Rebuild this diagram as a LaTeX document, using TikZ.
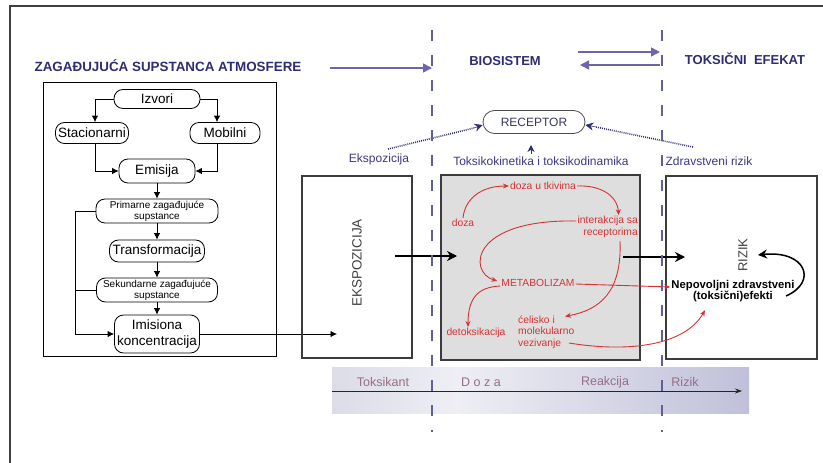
\documentclass[tikz,border=0pt]{standalone}
\usepackage{fontspec}
\setmainfont{Liberation Sans}
\usetikzlibrary{arrows.meta,shapes.misc}
\definecolor{tblue}{RGB}{45,45,115}
\definecolor{lblue}{RGB}{60,55,130}
\definecolor{parrc}{RGB}{110,100,170}
\definecolor{dashc}{RGB}{95,95,155}
\definecolor{redc}{RGB}{215,50,50}
\definecolor{gboxf}{RGB}{222,222,222}
\definecolor{boxd}{RGB}{60,60,60}
\definecolor{tlc}{RGB}{150,110,135}
\definecolor{bandL}{RGB}{220,220,232}
\definecolor{bandM}{RGB}{238,238,244}
\definecolor{bandR}{RGB}{192,192,218}
\definecolor{recc}{RGB}{55,55,95}
\pgfdeclarehorizontalshading{bandsh}{100bp}{color(0bp)=(bandL); color(25bp)=(bandL); color(40bp)=(bandM); color(75bp)=(bandR); color(100bp)=(bandR)}
\begin{document}
\begin{tikzpicture}[x=1pt,y=-1pt,
  fcbox/.style={draw=black, line width=0.8pt, rounded corners=9pt, inner sep=0pt, align=center, font=\fontsize{13.5}{15.5}\selectfont},
  fcsmall/.style={fcbox, font=\fontsize{10}{11}\selectfont},
  farr/.style={-{Latex[length=6.5pt,width=6.5pt]}, line width=0.8pt},
  bigbox/.style={draw=boxd, line width=1.1pt, inner sep=0pt},
  blk/.style={-{Stealth[length=10pt,width=10pt]}, line width=1.5pt},
  rd/.style={text=redc, inner sep=1pt, font=\fontsize{10.3}{11.6}\selectfont},
  rarr/.style={draw=redc, line width=0.9pt, -{Stealth[length=6pt,width=5pt]}},
  ttl/.style={text=tblue, font=\bfseries\fontsize{13}{15}\selectfont},
  lbl/.style={text=lblue, font=\fontsize{12}{14}\selectfont},
  dashv/.style={draw=dashc, line width=2.2pt, dash pattern=on 11pt off 14pt},
  parr/.style={draw=parrc, line width=1.6pt, -{Triangle[length=9pt,width=9pt]}},
  dotline/.style={draw=tblue, line width=1.6pt, dash pattern=on 0.9pt off 1.1pt},
  dottip/.style={draw=tblue, fill=tblue, line width=0.5pt, -{Stealth[length=8pt,width=8pt]}},
  tl/.style={text=tlc, font=\fontsize{12.5}{14}\selectfont}
]
\useasboundingbox (0,0) rectangle (823,463);
% frame
\coordinate (f1) at (9,6); \coordinate (f2) at (823,6);
\coordinate (f3) at (10,6); \coordinate (f4) at (10,463);
\draw[black!75, line width=1.2pt] (f1) -- (f2);
\draw[black!75, line width=1.2pt] (f3) -- (f4);

% titles
\node[ttl, font=\bfseries\fontsize{13.4}{15}\selectfont] (t1) at (168,66) {ZAGAĐUJUĆA SUPSTANCA ATMOSFERE};
\node[ttl] (t2) at (505,61) {BIOSISTEM};
\node[ttl] (t3) at (745,59) {TOKSIČNI\ \ EFEKAT};
\coordinate (ta1) at (330,68); \coordinate (ta2) at (432,68);
\draw[parr] (ta1) -- (ta2);
\coordinate (tb1) at (578,52); \coordinate (tb2) at (660,52);
\coordinate (tc1) at (660,65); \coordinate (tc2) at (580,65);
\draw[parr] (tb1) -- (tb2);
\draw[parr] (tc1) -- (tc2);

% flowchart
\node[draw=black, line width=1pt, minimum width=233pt, minimum height=274pt, inner sep=0pt] (fbox) at (159.5,219) {};
\node[fcbox, minimum width=86pt, minimum height=19pt] (izv) at (157,99) {Izvori};
\node[fcbox, minimum width=73pt, minimum height=21pt] (sta) at (92,133) {Stacionarni};
\node[fcbox, minimum width=70pt, minimum height=21pt] (mob) at (225,133) {Mobilni};
\node[fcbox, minimum width=76pt, minimum height=24pt] (emi) at (157,171) {Emisija};
\node[fcsmall, minimum width=122pt, minimum height=24pt] (pri) at (157,211) {Primarne zagađujuće\\supstance};
\node[fcbox, minimum width=95pt, minimum height=22pt] (tra) at (157,251) {Transformacija};
\node[fcsmall, minimum width=121pt, minimum height=24pt] (sek) at (157,290) {Sekundarne zagađujuće\\supstance};
\node[fcbox, minimum width=85pt, minimum height=38pt] (imi) at (157,334) {Imisiona\\koncentracija};
\draw[farr] (izv.west) -| ([xshift=3pt]sta.north);
\draw[farr] (izv.east) -| ([xshift=-8pt]mob.north);
\draw[farr] ([xshift=3pt]sta.south) |- (emi.west);
\draw[farr] ([xshift=-8pt]mob.south) |- (emi.east);
\draw[farr] (emi) -- (pri);
\draw[farr] (pri) -- (tra);
\draw[farr] (tra) -- (sek);
\draw[farr] (sek) -- (imi);
\coordinate (bx) at (75,0);
\draw[farr] (pri.west) -- (pri.west -| bx) -- (imi.west -| bx) -- (imi.west);
\draw[line width=0.8pt] (sek.west) -- (sek.west -| bx);
\coordinate (ekin) at (337,334);
\draw[farr] (imi.east) -- (ekin);

% big boxes
\node[bigbox, minimum width=110pt, minimum height=182pt] (eks) at (357,267) {};
\node[rotate=90, text=black!75, font=\fontsize{13.5}{15}\selectfont] (ekt) at (357,263) {EKSPOZICIJA};
\node[bigbox, fill=gboxf, minimum width=199pt, minimum height=185pt] (gb) at (540.5,267.5) {};
\node[bigbox, minimum width=151pt, minimum height=183pt] (riz) at (741.5,267.5) {};
\node[rotate=90, text=black!75, font=\fontsize{13}{15}\selectfont] (rzt) at (743,255) {RIZIK};

\coordinate (b1s) at (395,256); \coordinate (b1e) at (457,256);
\draw[blk] (b1s) -- (b1e);
\coordinate (b2s) at (623,257); \coordinate (b2e) at (685,257);
\draw[blk] (b2s) -- (b2e);

% receptor
\node[draw=black!70, line width=0.8pt, rounded corners=11.5pt, minimum width=102pt, minimum height=23pt, inner sep=0pt, text=recc, font=\fontsize{12}{14}\selectfont] (rec) at (534,122) {RECEPTOR};
\coordinate (ra1) at (531,154); \coordinate (ra2) at (531,145);
\draw[tblue, line width=1pt, -{Stealth[length=7pt,width=7pt]}] (ra1) -- (ra2);
\coordinate (d1) at (388,149); \coordinate (d2) at (693,147);
\coordinate (d1e) at (474,128); \coordinate (d2e) at (596,127);
\draw[dotline] (d1) -- (d1e);
\draw[dotline] (d2) -- (d2e);
\draw[dottip] (d1e) -- ([yshift=-3pt]rec.west);
\draw[dottip] (d2e) -- ([yshift=-3pt]rec.east);
\node[lbl] (lek) at (379,159) {Ekspozicija};
\node[lbl] (ltk) at (541,161) {Toksikokinetika i toksikodinamika};
\node[lbl] (lzr) at (709,161) {Zdravstveni rizik};

% red content
\node[rd] (doza) at (463,223) {doza};
\node[rd] (dut) at (543,186) {doza u tkivima};
\node[rd, anchor=east, align=right] (int) at (639,227) {interakcija sa\\receptorima};
\node[rd] (met) at (538,283) {METABOLIZAM};
\node[rd] (det) at (476,333) {detoksikacija};
\node[rd, anchor=west, align=left] (cel) at (517,332) {ćelisko i\\molekularno\\vezivanje};
\node[font=\bfseries\fontsize{11.3}{11.5}\selectfont, align=center, inner sep=1pt] (nep) at (733,291) {Nepovoljni zdravstveni\\(toksični)efekti};

\draw[rarr] (doza.north) .. controls (465,198) and (482,186) .. (dut.west);
\draw[rarr] (dut.east) .. controls (600,185) and (617,195) .. ([xshift=11pt]int.north);
\draw[rarr] ([yshift=6pt]int.west) .. controls (470,219) and (468,272) .. ([xshift=-3pt,yshift=2pt]met.west);
\draw[rarr] ([yshift=-3pt]met.west) .. controls (478,287) and (468,298) .. ([xshift=-8pt]det.north);
\coordinate (rcs) at (620,241);
\draw[rarr] (rcs) .. controls (622,292) and (600,310) .. ([xshift=48pt,yshift=-2pt]cel.north west);
\draw[rarr] ([yshift=-1pt]met.east) -- ([yshift=4pt]nep.west);
\coordinate (vz) at (569,343);
\draw[rarr] (vz) .. controls (630,353) and (685,345) .. ([xshift=-28pt,yshift=-7pt]nep.south);
\coordinate (cr1) at (786,296);
\draw[line width=1.5pt, -{Stealth[length=9pt,width=9pt]}] (cr1) .. controls (818,282) and (806,250) .. ([xshift=7pt]rzt.south);

% timeline
\node[shading=bandsh, minimum width=417pt, minimum height=46pt, inner sep=0pt] (band) at (540.5,390) {};
\coordinate (tl1) at (332,391); \coordinate (tl2) at (742,391);
\draw[line width=0.8pt, black!85, -{Stealth[length=7pt,width=5pt]}] (tl1) -- (tl2);
\node[tl] (tk) at (383,382) {Toksikant};
\node[tl] (dz) at (481,382) {D o z a};
\node[tl] (re) at (605,382) {Reakcija};
\node[tl] (rz) at (685,382) {Rizik};

% dashed lines
\coordinate (dA1) at (432,30); \coordinate (dA2) at (432,432);
\coordinate (dB1) at (662,30); \coordinate (dB2) at (662,432);
\draw[dashv] (dA1) -- (dA2);
\draw[dashv] (dB1) -- (dB2);
\end{tikzpicture}
\end{document}
